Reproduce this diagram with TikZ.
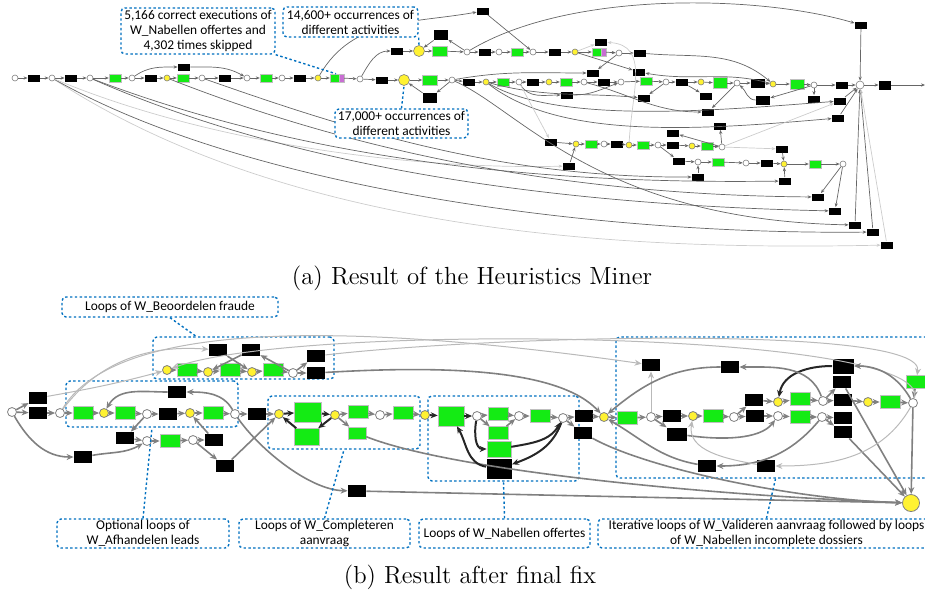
\documentclass[tikz,border=0pt]{standalone}
\usepackage{fontspec}
\usepackage{tikz}
\usetikzlibrary{arrows.meta, calc}
\newfontfamily\calfont{Carlito}
\definecolor{callblue}{RGB}{0,112,192}
\definecolor{petgreen}{RGB}{20,235,20}
\definecolor{petyellow}{RGB}{255,242,50}
\definecolor{petpurple}{RGB}{200,110,210}

\begin{document}
\begin{tikzpicture}[x=0.5pt, y=-0.5pt,
    pa/.style={circle, draw=gray, fill=white, inner sep=0pt, minimum size=3pt, line width=0.3pt},
    ya/.style={pa, fill=petyellow},
    yA/.style={pa, fill=petyellow, minimum size=5.5pt},
    ta/.style={rectangle, fill=black, inner sep=0pt, minimum width=6pt, minimum height=3.5pt},
    ga/.style={rectangle, fill=petgreen, draw=gray!50, line width=0.2pt, inner sep=0pt, minimum width=6pt, minimum height=4pt},
    va/.style={ga, fill=petpurple, minimum width=2.5pt},
    ea/.style={-{Stealth[length=2pt,width=1.6pt]}, draw=gray!80!black, line width=0.35pt},
    fa/.style={ea, draw=gray!40},
    pb/.style={circle, draw=gray, fill=white, inner sep=0pt, minimum size=4.5pt, line width=0.4pt},
    yb/.style={pb, fill=petyellow},
    tb/.style={rectangle, fill=black, inner sep=0pt, minimum width=9pt, minimum height=6pt},
    gb/.style={rectangle, fill=petgreen, draw=gray!50, line width=0.3pt, inner sep=0pt, minimum width=10pt, minimum height=6.5pt},
    eb/.style={-{Stealth[length=3.5pt,width=3pt]}, draw=gray, line width=0.8pt},
    db/.style={eb, draw=black!85, line width=1pt},
    fb/.style={eb, draw=gray!55, line width=0.5pt},
    grp/.style={draw=callblue, dash pattern=on 1.2pt off 1.2pt, line width=0.7pt, rounded corners=2pt, inner sep=0pt},
    note/.style={grp, fill=white, align=center, font=\calfont\fontsize{6.7}{7.5}\selectfont},
    link/.style={draw=callblue, dash pattern=on 1.2pt off 1.2pt, line width=0.7pt}]
    \useasboundingbox (0,0) rectangle (925,595);

    % (a) main row
    \node[pa] (a1) at (15,78) {};
    \node[ta] (a2) at (34,78) {};
    \node[pa] (a3) at (52,78) {};
    \node[ta] (a4) at (71,78) {};
    \node[pa] (a5) at (90,78) {};
    \node[ga] (a6) at (115,78) {};
    \node[pa] (a7) at (132,78) {};
    \node[ta] (a8) at (151,78) {};
    \node[ta] (a9) at (184,67) {};
    \node[ya] (a10) at (167,78) {};
    \node[ga] (a11) at (183,78) {};
    \node[pa] (a12) at (202,78) {};
    \node[ta] (a13) at (225,78) {};
    \node[pa] (a14) at (247,78) {};
    \node[ga] (a15) at (266,78) {};
    \node[pa] (a16) at (282,78) {};
    \node[ta] (a17) at (300,78) {};
    \node[ya] (a18) at (318,78) {};
    \node[ga] (a19) at (336,78) {};
    \node[va] (a19p) at (341.5,78) {};
    \node[pa] (a20) at (360,79) {};
    \node[ta] (a21) at (382,80) {};
    \node[yA] (a22) at (404,80) {};
    \node[ga, minimum width=7.5pt, minimum height=5pt] (a23) at (430,80) {};
    \node[ta, minimum width=7pt, minimum height=5pt] (a24) at (430,98) {};
    \node[pa] (a25) at (452,80) {};
    \node[ta] (a26) at (469,82) {};
    \node[ya] (a27) at (486,82) {};
    \node[ga] (a28) at (503,82) {};
    \node[pa] (a29) at (519,82) {};
    \node[ta] (a30) at (533,82) {};
    \node[ya] (a31) at (549,82) {};
    \node[ga] (a32) at (566,82) {};
    \node[pa] (a33) at (584,82) {};
    \node[ta] (a34) at (604,82) {};
    \node[pa] (a35) at (621,82) {};
    \node[ga] (a36) at (646,81) {};
    \node[pa] (a37) at (666,82) {};
    \node[ta] (a38) at (682,82) {};
    \node[ya] (a39) at (701,82) {};
    \node[ga, minimum width=7pt, minimum height=5.5pt] (a40) at (720,83) {};
    \node[pa] (a41) at (737,83) {};
    \node[ta, minimum width=7pt, minimum height=4.5pt] (a42) at (758,83) {};
    \node[ya] (a43) at (773,84) {};
    \node[ga, minimum width=7pt, minimum height=5pt] (a44) at (797,84) {};
    \node[pa] (a45) at (814,85) {};
    \node[ta] (a46) at (842,85) {};
    \node[pa, minimum size=4pt] (a47) at (860,85) {};
    \node[ta, minimum height=4.5pt] (a48) at (885,85) {};
    \coordinate (aout) at (925,85);

    % (a) upper branch
    \node[ta] (u1) at (397,51) {};
    \node[yA] (u2) at (419,51) {};
    \node[ga, minimum width=7.5pt, minimum height=5pt] (u3) at (440,51) {};
    \node[ta, minimum width=7pt, minimum height=5pt] (u4) at (441,35) {};
    \node[pa] (u5) at (467,52) {};
    \node[ta] (u6) at (485,52) {};
    \node[pa] (u7) at (499,52) {};
    \node[ga] (u8) at (517,52) {};
    \node[pa] (u9) at (533,52) {};
    \node[ta] (u10) at (555,52) {};
    \node[ya] (u11) at (575,52) {};
    \node[ga] (u12) at (598,52) {};
    \node[va] (u12p) at (603.5,52) {};
    \node[pa] (u13) at (619,53) {};
    \node[ta] (u14) at (640,53) {};
    \node[ta] (u15) at (601,42) {};
    \node[ta] (u16) at (483,11) {};
    \node[ta] (u17) at (861,25) {};
    \node[ta] (u18) at (593,73) {};
    \node[ta] (u19) at (639,72) {};

    % (a) lower transitions and rows
    \node[ta] (l1) at (567,95) {};
    \node[ta] (l2) at (644,98) {};
    \node[ta] (l3) at (706,96) {};
    \node[ta, minimum width=7pt, minimum height=4.5pt] (l4) at (763,100) {};
    \node[ta] (l5) at (814,99) {};
    \node[ta] (l6) at (840,101) {};
    \node[ta] (l7) at (708,112) {};
    \node[ta] (l8) at (838,118) {};
    \node[ta] (l9) at (720,126) {};
    \node[ta] (r1) at (551,142) {};
    \node[ya] (r2) at (576,144) {};
    \node[ga] (r3) at (591,144) {};
    \node[pa] (r4) at (604,144) {};
    \node[ta] (r5) at (617,144) {};
    \node[ya] (r6) at (629,145) {};
    \node[ga] (r7) at (643,145) {};
    \node[pa] (r8) at (658,145) {};
    \node[ta] (r9) at (673,145) {};
    \node[ya] (r10) at (692,146) {};
    \node[ga] (r11) at (707,146) {};
    \node[pa] (r12) at (722,147) {};
    \node[ta] (r13) at (673,133) {};
    \node[ta] (r14) at (782,149) {};
    \node[ta] (r15) at (569,166) {};
    \node[ta] (s1) at (679,161) {};
    \node[pa] (s2) at (698,162) {};
    \node[ga] (s3) at (718,162) {};
    \node[pa] (s4) at (746,163) {};
    \node[ta] (s5) at (767,163) {};
    \node[ya] (s6) at (784,164) {};
    \node[ga] (s7) at (815,164) {};
    \node[pa] (s8) at (843,164) {};
    \node[ta] (s9) at (698,177) {};
    \node[ta] (s10) at (785,181) {};
    \node[ta] (z1) at (818,197) {};
    \node[ta] (z2) at (835,211) {};
    \node[ta] (z3) at (855,225) {};
    \node[ta] (z4) at (873,232) {};
    \node[ta] (z5) at (887,245) {};

    % (a) arcs
    \foreach \p/\q in {a1/a2, a2/a3, a3/a4, a4/a5, a5/a6, a6/a7, a7/a8, a8/a10, a10/a11, a11/a12, a12/a13,
        a13/a14, a14/a15, a15/a16, a16/a17, a17/a18, a18/a19, a19p/a20, a20/a21, a21/a22, a22/a23, a23/a25,
        a25/a26, a26/a27, a27/a28, a28/a29, a29/a30, a30/a31, a31/a32, a32/a33, a33/a34, a34/a35, a35/a36,
        a36/a37, a37/a38, a38/a39, a39/a40, a40/a41, a41/a42, a42/a43, a43/a44, a44/a45, a45/a46, a46/a47,
        a47/a48, a48/aout, u1/u2, u2/u3, u3/u5, u5/u6, u6/u7, u7/u8, u8/u9, u9/u10, u10/u11, u11/u12,
        u12p/u13, u13/u14, a25/a24, a24/a22, u5/u4, u4/u2, r1/r2, r2/r3, r3/r4, r4/r5, r5/r6, r6/r7, r7/r8,
        r8/r9, r9/r10, r10/r11, r11/r12, s1/s2, s2/s3, s3/s4, s4/s5, s5/s6, s6/s7, s7/s8}
        \draw[ea] (\p) -- (\q);
    \draw[ea] (a7) to[out=35, in=180] (a9);
    \draw[ea] (a9) to[out=0, in=150] (a14);
    \draw[ea] (a20) to[out=60, in=180] (u1);
    \draw[ea] (a18) to[out=60, in=190] (u16);
    \draw[ea] (u16) -- (u9);
    \draw[ea] (u5) .. controls (570,-10) and (760,-5) .. (u17);
    \draw[ea] (u17) -- (a47);
    \draw[ea] (u13) -- (u18);
    \draw[ea] (a25) to[out=10, in=180] (u18);
    \draw[fa] (u11) -- (u15);
    \draw[fa] (r6) .. controls (632,90) and (650,45) .. (u15);
    \draw[ea] (u11) -- (u19);
    \draw[ea] (u14) to[out=-5, in=140] (a43);
    \draw[ea] (a43) to[out=165, in=-10] (u19);
    \draw[ea] (a27) to[out=-15, in=175] (l2);
    \draw[ea] (a27) .. controls (560,125) and (720,110) .. (l6);
    \draw[ea] (a27) .. controls (560,140) and (700,130) .. (l8);
    \draw[ea] (a29) to[out=-60, in=180] (l1);
    \draw[ea] (l1) to[out=0, in=200] (a35);
    \draw[fa] (a29) -- (r1);
    \draw[ea] (a33) to[out=-15, in=180] (l7);
    \draw[ea] (a37) -- (l2);
    \draw[ea] (a38) -- (l3);
    \draw[ea] (a41) -- (l7);
    \draw[ea] (a45) -- (l4);
    \draw[ea] (l4) to[out=180, in=-40] (a41);
    \draw[ea] (a45) -- (l5);
    \draw[ea] (l6) -- (a47);
    \draw[ea] (l8) -- (a47);
    \draw[fa] (r12) -- (l6);
    \draw[ea] (r12) -- (r13);
    \draw[ea] (r12) -- (l9);
    \draw[fa] (r12) -- (r14);
    \draw[ea] (r8) -- (s1);
    \draw[ea] (r15) -- (r2);
    \draw[ea] (s9) -- (s2);
    \draw[ea] (s10) -- (s6);
    \draw[ea] (r14) -- (s6);
    \draw[ea] (s8) -- (z1);
    \draw[ea] (s8) -- (z2);
    \draw[ea] (z3) -- (a47);
    \draw[ea] (z4) -- (a47);
    \draw[fa] (z5) -- (a47);
    \draw[fa] (a3) .. controls (300,240) and (650,250) .. (z5);
    \draw[ea] (a3) .. controls (250,190) and (600,235) .. (z4);
    \draw[fa] (a3) .. controls (200,140) and (400,170) .. (r15);
    \draw[ea] (a5) .. controls (280,150) and (500,185) .. (s10);
    \draw[ea] (a5) .. controls (300,170) and (560,205) .. (z2);
    \draw[ea] (a10) .. controls (350,150) and (560,195) .. (z1);
    \draw[ea] (a12) .. controls (350,130) and (500,178) .. (s9);
    \draw[ea] (a25) .. controls (520,110) and (600,220) .. (z3);

    % (a) callouts
    \node[note, minimum width=77pt, minimum height=23pt] (nExec) at (198,31) {5,166 correct executions of\\W\_Nabellen offertes and\\4,302 times skipped};
    \node[note, minimum width=67.5pt, minimum height=15pt] (nOccA) at (350.5,22) {14,600+ occurrences of\\different activities};
    \node[note, minimum width=66.5pt, minimum height=14.5pt] (nOccB) at (401.5,123.5) {17,000+ occurrences of\\different activities};
    \draw[link] (nExec.south east) -- (a19.north);
    \draw[link] (nOccA.south east) -- (u2.north);
    \draw[link] (nOccB.north) -- (a22.south);
    \node[font=\fontsize{12.4}{14}\selectfont] (capA) at (472,278) {(a) Result of the Heuristics Miner};

    % (b) groups
    \node[grp, minimum width=90.5pt, minimum height=21pt] (gBeo) at (243.5,358) {};
    \node[grp, minimum width=86pt, minimum height=23pt] (gAfh) at (152,404) {};
    \node[grp, minimum width=76pt, minimum height=26.5pt] (gCom) at (344,422.5) {};
    \node[grp, minimum width=75.5pt, minimum height=42.5pt] (gNab) at (503.5,438.5) {};
    \node[grp, minimum width=159.5pt, minimum height=70.5pt] (gVal) at (775.5,407.5) {};

    % (b) afhandelen leads
    \node[pb] (b1) at (12,412) {};
    \node[tb] (b2) at (38,398) {};
    \node[tb] (b3) at (38,413) {};
    \node[pb] (b4) at (60,413) {};
    \node[gb] (b5) at (83,413) {};
    \node[yb] (b6) at (104,413) {};
    \node[gb] (b7) at (125,413) {};
    \node[pb] (b8) at (147,414) {};
    \node[tb] (b9) at (168,414) {};
    \node[yb] (b10) at (190,413) {};
    \node[gb] (b11) at (213,413) {};
    \node[pb] (b12) at (235,414) {};
    \node[tb] (b13) at (257,414) {};
    \node[tb] (b14) at (177,392) {};
    \node[tb] (b15) at (125,438) {};
    \node[pb] (b16) at (147,441) {};
    \node[gb] (b17) at (170,441) {};
    \node[pb] (b18) at (193,440) {};
    \node[tb] (b19) at (214,440) {};
    \node[tb] (b20) at (83,457) {};
    \node[tb] (b21) at (225,466) {};
    \node[tb] (b22) at (357,491) {};

    % (b) beoordelen fraude
    \node[yb] (c1) at (167,370) {};
    \node[gb] (c2) at (187,370) {};
    \node[yb] (c3) at (208,372) {};
    \node[gb] (c4) at (230,370) {};
    \node[yb] (c5) at (252,372) {};
    \node[gb] (c6) at (273,370) {};
    \node[pb] (c7) at (293,373) {};
    \node[tb] (c8) at (218,350) {};
    \node[tb] (c9) at (251,350) {};
    \node[tb] (c10) at (316,356) {};
    \node[tb] (c11) at (316,373) {};

    % (b) completeren aanvraag
    \node[yb] (d1) at (279,414) {};
    \node[gb, minimum width=13.5pt, minimum height=10pt] (d2) at (308,412) {};
    \node[gb, minimum width=12.5pt, minimum height=8.5pt] (d3) at (307,437) {};
    \node[yb] (d4) at (335,415) {};
    \node[gb] (d5) at (358,412) {};
    \node[gb, minimum width=9pt, minimum height=6pt] (d6) at (357,433) {};
    \node[pb] (d7) at (380,415) {};
    \node[gb] (d8) at (403,413) {};
    \node[yb] (d9) at (425,415) {};

    % (b) nabellen offertes
    \node[gb, minimum width=13pt, minimum height=10pt] (e1) at (451,416) {};
    \node[pb] (e2) at (477,416) {};
    \node[gb] (e3) at (498,414) {};
    \node[gb] (e4) at (498,433) {};
    \node[pb] (e5) at (519,416) {};
    \node[gb] (e6) at (540,416) {};
    \node[pb] (e7) at (563,418) {};
    \node[gb, minimum width=12pt, minimum height=8pt] (e8) at (499,449) {};
    \node[tb, minimum width=12.5pt, minimum height=10pt] (e9) at (499,469) {};
    \node[tb] (e10) at (584,416) {};
    \node[tb] (e11) at (583,433) {};

    % (b) valideren aanvraag
    \node[yb] (f1) at (604,417) {};
    \node[gb] (f2) at (627,418) {};
    \node[pb] (f3) at (651,417) {};
    \node[tb] (f4) at (651,365) {};
    \node[tb] (f5) at (672,416) {};
    \node[tb, minimum width=10pt, minimum height=6.5pt] (f6) at (677,434) {};
    \node[yb] (f7) at (693,416) {};
    \node[gb] (f8) at (713,416) {};
    \node[pb] (f9) at (734,417) {};
    \node[tb] (f10) at (754,400) {};
    \node[tb] (f11) at (755,416) {};
    \node[yb] (f12) at (778,402) {};
    \node[pb] (f13) at (778,416) {};
    \node[gb] (f14) at (800,399) {};
    \node[gb] (f15) at (800,417) {};
    \node[pb] (f16) at (823,401) {};
    \node[pb] (f17) at (822,417) {};
    \node[tb] (f18) at (730,367) {};
    \node[tb, minimum width=10.5pt, minimum height=7.5pt] (f19) at (843,366) {};
    \node[tb] (f20) at (842,382) {};
    \node[tb] (f21) at (843,400) {};
    \node[tb] (f22) at (843,418) {};
    \node[tb] (f23) at (843,432) {};
    \node[yb] (f24) at (868,402) {};
    \node[gb] (f25) at (890,402) {};
    \node[pb] (f26) at (913,403) {};
    \node[gb] (f27) at (916,382) {};
    \node[tb] (f28) at (707,466) {};
    \node[tb] (f29) at (766,466) {};
    \node[yb, minimum size=8.5pt] (fz) at (911,503) {};

    % (b) arcs
    \foreach \p/\q in {b1/b2, b1/b3, b3/b4, b4/b5, b5/b6, b6/b7, b7/b8, b8/b9, b9/b10, b10/b11, b11/b12,
        b12/b13, b13/d1, b8/b15, b15/b16, b16/b17, b17/b18, b18/b19, b19/b10, b18/b21, b21/d1, c1/c2,
        c2/c3, c3/c4, c4/c5, c5/c6, c6/c7, c7/c10, c7/c11, c8/c5, c7/c9, c9/c3, d4/d5, d5/d7, d7/d8,
        d8/d9, d4/d6, e2/e3, e2/e4, e3/e5, e4/e5, e5/e6, e6/e7, e7/e10, e7/e11, e10/f1, f1/f2, f2/f3,
        f3/f5, f3/f6, f5/f7, f7/f8, f8/f9, f9/f10, f9/f11, f11/f13, f13/f15, f15/f17, f10/f12, f12/f14,
        f14/f16, f16/f20, f16/f21, f17/f22, f17/f23, f21/f24, f24/f25, f25/f26, f27/f26, f20/fz, f23/fz,
        f26/fz}
        \draw[eb] (\p) -- (\q);
    \draw[fb] (f3) -- (f4);
    \draw[fb] (b2) to[out=10, in=195] (c1);
    \draw[eb] (b1) to[out=-60, in=180] (b20);
    \draw[eb] (b20) to[out=10, in=210] (b16);
    \draw[eb] (b12) to[out=120, in=0] (b14);
    \draw[eb] (b14) to[out=180, in=60] (b6);
    \draw[eb] (b12) .. controls (260,450) and (310,490) .. (b22);
    \draw[eb] (b22) -- (fz);
    \draw[fb] (b4) .. controls (110,330) and (300,315) .. (f4);
    \draw[fb] (b4) .. controls (100,360) and (150,345) .. (c8);
    \draw[fb] (c10) .. controls (500,335) and (925,325) .. (f27);
    \draw[fb] (f26) .. controls (935,330) and (300,322) .. (c1);
    \draw[eb] (c11) .. controls (450,365) and (560,370) .. (f1);
    \draw[db] (d1) -- (d2);
    \draw[db] (d2) -- (d4);
    \draw[db] (d4) -- (d3);
    \draw[db] (d3) -- (d1);
    \draw[eb] (d6) .. controls (450,470) and (700,495) .. (fz);
    \draw[db] (d9) -- (e1);
    \draw[db] (e1) -- (e2);
    \draw[db] (e2) to[out=-100, in=180] (e8);
    \draw[db] (e8) to[out=10, in=-120] (e7);
    \draw[db] (e7) to[out=-110, in=20] (e9);
    \draw[db] (e9) to[out=170, in=-60] (e1);
    \draw[eb] (e11) .. controls (650,470) and (800,500) .. (fz);
    \draw[eb] (f6) .. controls (720,440) and (760,440) .. (f13);
    \draw[eb] (f26) to[out=120, in=0] (f19);
    \draw[db] (f19) to[out=180, in=80] (f12);
    \draw[eb] (f16) to[out=110, in=0] (f18);
    \draw[eb] (f18) to[out=180, in=40] (f1);
    \draw[eb] (f17) to[out=-130, in=0] (f28);
    \draw[eb] (f28) to[out=170, in=-30] (f1);
    \draw[fb] (f26) to[out=-120, in=0] (f29);
    \draw[fb] (f29) to[out=170, in=-100] (f7);

    % (b) callouts
    \node[note, minimum width=108pt, minimum height=10pt] (nBeo) at (170,307) {Loops of W\_Beoordelen fraude};
    \node[note, minimum width=86pt, minimum height=14.5pt] (nAfh) at (143,533.5) {Optional loops of\\W\_Afhandelen leads};
    \node[note, minimum width=85.5pt, minimum height=14.5pt] (nCom) at (324.5,533.5) {Loops of W\_Completeren\\aanvraag};
    \node[note, minimum width=85.5pt, minimum height=14.5pt] (nNab) at (504.5,533.5) {Loops of W\_Nabellen offertes};
    \node[note, minimum width=168.5pt, minimum height=14.5pt] (nVal) at (766.5,533.5) {Iterative loops of W\_Valideren aanvraag followed by loops\\of W\_Nabellen incomplete dossiers};
    \draw[link] (nBeo.south) -- ($(gBeo.north west)!0.24!(gBeo.north east)$);
    \draw[link] (nAfh.north) -- (gAfh.south);
    \draw[link] (nCom.north) -- (gCom.south);
    \draw[link] (nNab.north) -- (gNab.south);
    \draw[link] (nVal.north) -- (gVal.south);
    \node[font=\fontsize{12.3}{14}\selectfont] (capB) at (470,577) {(b) Result after final fix};
\end{tikzpicture}
\end{document}
